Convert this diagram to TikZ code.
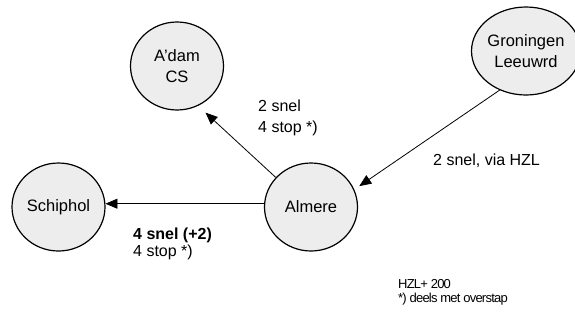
\documentclass[tikz,border=0pt]{standalone}
\usepackage{fontspec}
\setmainfont{Liberation Sans}
\newfontfamily\notefont[LetterSpace=-6]{Liberation Sans}
\usetikzlibrary{shapes.geometric,arrows.meta}
\begin{document}
\begin{tikzpicture}[x=1pt,y=-1pt,
  stn/.style={ellipse,draw=black,line width=1.2pt,fill=black!7,minimum width=93pt,minimum height=88pt,inner sep=0pt,align=center,font=\fontsize{16.5}{20.5}\selectfont},
  lbl/.style={anchor=west,align=left,inner sep=0pt,font=\fontsize{16}{21}\selectfont},
  arr/.style={draw=black,line width=0.8pt,-{Triangle[length=12pt,width=10pt]}}]
\useasboundingbox (0,0) rectangle (575,322);
\node[stn] (adam) at (177,66) {A'dam\\CS};
\node[stn] (gron) at (526,51) {Groningen\\Leeuwrd};
\node[stn] (alm) at (311,207) {Almere};
\node[stn] (sch) at (58.5,207) {Schiphol};
\draw[arr,shorten >=10pt] (alm.140) -- (adam.298);
\draw[arr,shorten >=6pt] (gron.236) -- (alm.22);
\draw[arr] (alm.176) -- (sch.4);
\node[lbl] (l1) at (258,118) {2 snel\\4 stop *)};
\node[lbl] (l2) at (433,161) {2 snel, via HZL};
\node[lbl,font=\fontsize{16}{17}\selectfont] (l3) at (133,244) {\textbf{4 snel (+2)}\\4 stop *)};
\node[lbl,font=\notefont\fontsize{13}{14.5}\selectfont] (l4) at (398,292.5) {HZL+ 200\\*) deels met overstap};
\end{tikzpicture}
\end{document}
